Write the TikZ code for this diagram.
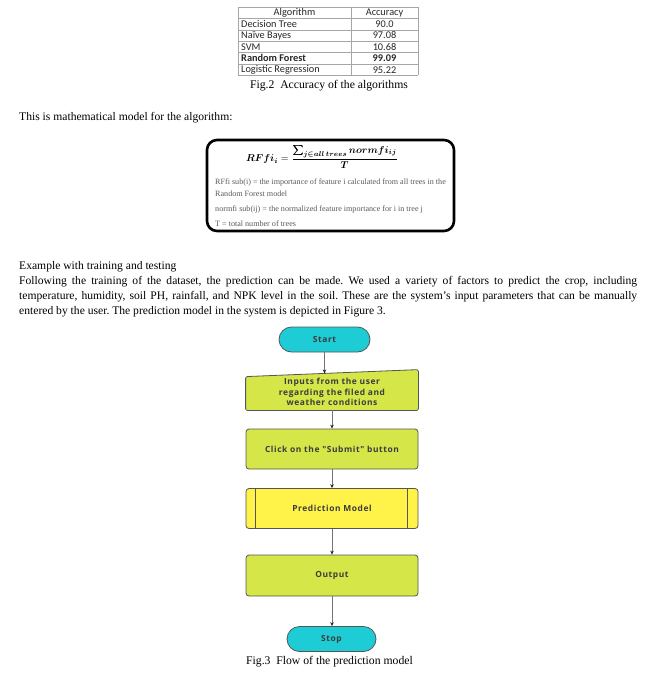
\documentclass[tikz,border=0pt]{standalone}
\usepackage{fontspec}
\setmainfont{Liberation Serif}
\newfontfamily\tablefont{Carlito}
\newfontfamily\flowfont[LetterSpace=7]{Open Sans}
\usepackage{amsmath,bm}
\usetikzlibrary{positioning}
\usetikzlibrary{arrows.meta}
\usetikzlibrary{calc, shapes.misc, backgrounds}
\definecolor{termCyan}{RGB}{30,204,214}
\definecolor{procLime}{RGB}{212,230,72}
\definecolor{predYellow}{RGB}{255,242,72}
\definecolor{flowEdge}{RGB}{85,85,85}
\definecolor{flowText}{RGB}{60,60,60}
\tikzset{%
	% Specifications for style of nodes:
	base/.style = {draw=flowEdge, line width=0.8pt, text=flowText,
		align=center, inner sep=2pt,
		font=\flowfont\bfseries\fontsize{8.4}{10.5}\selectfont},
	terminal/.style = {base, rounded rectangle, fill=termCyan,
		minimum height=25pt},
	process/.style = {base, rectangle, rounded corners=3pt, fill=procLime,
		minimum width=172pt, minimum height=40pt},
	predefined/.style = {process, fill=predYellow},
	cell/.style = {inner sep=0pt, text=black!85,
		font=\tablefont\fontsize{10.3}{11}\selectfont},
	body/.style = {anchor=west, inner sep=0pt,
		font=\fontsize{11.6}{15}\selectfont},
	note/.style = {anchor=west, inner sep=0pt, text=black!65,
		font=\fontsize{8.1}{9}\selectfont},
	flowArrow/.style = {draw=black!55, line width=0.6pt,
		-{Stealth[length=4pt, width=3.5pt, color=black!85]}}
}
\frenchspacing
\begin{document}
\begin{tikzpicture}[x=1pt, y=-1pt]
	\useasboundingbox (0,0) rectangle (653,680);
	% accuracy table
	\foreach \k in {0,...,6}
		\draw[gray!70, line width=0.5pt] (238,{7+11.4*\k}) -- (418,{7+11.4*\k});
	\foreach \xx in {238,351,418}
		\draw[gray!70, line width=0.5pt] (\xx,7) -- (\xx,75.4);
	\node (hdAlgo) [cell] at (294.5,12.7) {Algorithm};
	\node (hdAcc) [cell] at (384.5,12.7) {Accuracy};
	\foreach \algo/\acc [count=\r] in {Decision Tree/90.0, Naïve Bayes/97.08,
			SVM/10.68, \textbf{Random Forest}/\textbf{99.09}, Logistic Regression/95.22} {
		\node (algo\r) [cell, anchor=west] at (241,{12.7+11.4*\r}) {\algo};
		\node (acc\r) [cell] at (384.5,{12.7+11.4*\r}) {\acc};
	}
	\node (figTwo) [font=\fontsize{11.7}{13}\selectfont] at (329,86) {Fig.2\ \ Accuracy of the algorithms};
	\node (intro) [body] at (19,118) {This is mathematical model for the algorithm:};
	% formula box
	\node (formulaBox) [draw=black, line width=2.6pt, rounded corners=10pt,
		minimum width=247pt, minimum height=91pt] at (330.5,185.5) {};
	\node (formula) [font=\fontsize{10}{12}\selectfont] at (322,157)
		{$\displaystyle \bm{RFfi_i} = \frac{\bm{\sum_{j\in all\,trees} normfi_{ij}}}{\bm{T}}$};
	\node (noteOne) [note] at (215,183) {RFfi sub(i) = the importance of feature i calculated from all trees in the};
	\node (noteTwo) [note] at (215,194) {Random Forest model};
	\node (noteThree) [note] at (215,210) {normfi sub(ij) = the normalized feature importance for i in tree j};
	\node (noteFour) [note] at (215,224) {T = total number of trees};
	% paragraph
	\node (exTitle) [body] at (19,267) {Example with training and testing};
	\node (parOne) [body] at (19,282) {\makebox[618pt][s]{Following the training of the dataset, the prediction can be made. We used a variety of factors to predict the crop, including}};
	\node (parTwo) [body] at (19,297) {\makebox[618pt][s]{temperature, humidity, soil PH, rainfall, and NPK level in the soil. These are the system's input parameters that can be manually}};
	\node (parThree) [body] at (19,312) {entered by the user. The prediction model in the system is depicted in Figure 3.};
	% flow chart
	\node (startNode) [terminal, minimum width=95pt] at (324.5,339.5) {Start};
	\node (userInputs) [process, draw=none, fill=none] at (332,392) {Inputs from the user\\ regarding the filed and\\ weather conditions};
	\begin{scope}[on background layer]
		\draw[base, fill=procLime, rounded corners=2pt] ([yshift=-5pt]userInputs.north west) -- ([yshift=2pt]userInputs.north east)
			-- ([yshift=2pt]userInputs.south east) -- ([yshift=2pt]userInputs.south west) -- cycle;
	\end{scope}
	\node (submitClick) [process] at (332,449) {Click on the "Submit" button};
	\node (predModel) [predefined] at (332,508.5) {Prediction Model};
	\draw[base] ([xshift=10pt]predModel.north west) -- ([xshift=10pt]predModel.south west);
	\draw[base] ([xshift=-11pt]predModel.north east) -- ([xshift=-11pt]predModel.south east);
	\node (outputBox) [process, minimum height=41pt] at (332,575.5) {Output};
	\node (stopNode) [terminal, minimum width=93pt] at (331.5,639) {Stop};
	\draw[flowArrow] (startNode.south) -- ([yshift=-1.8pt]startNode.south |- userInputs.north);
	\draw[flowArrow] ([yshift=2pt]userInputs.south) -- (submitClick.north);
	\draw[flowArrow] (submitClick.south) -- (predModel.north);
	\draw[flowArrow] (predModel.south) -- (outputBox.north);
	\draw[flowArrow] (outputBox.south) -- (outputBox.south |- stopNode.north);
	\node (figThree) [font=\fontsize{11.7}{13}\selectfont] at (329.5,662) {Fig.3\ \ Flow of the prediction model};
\end{tikzpicture}
\end{document}
